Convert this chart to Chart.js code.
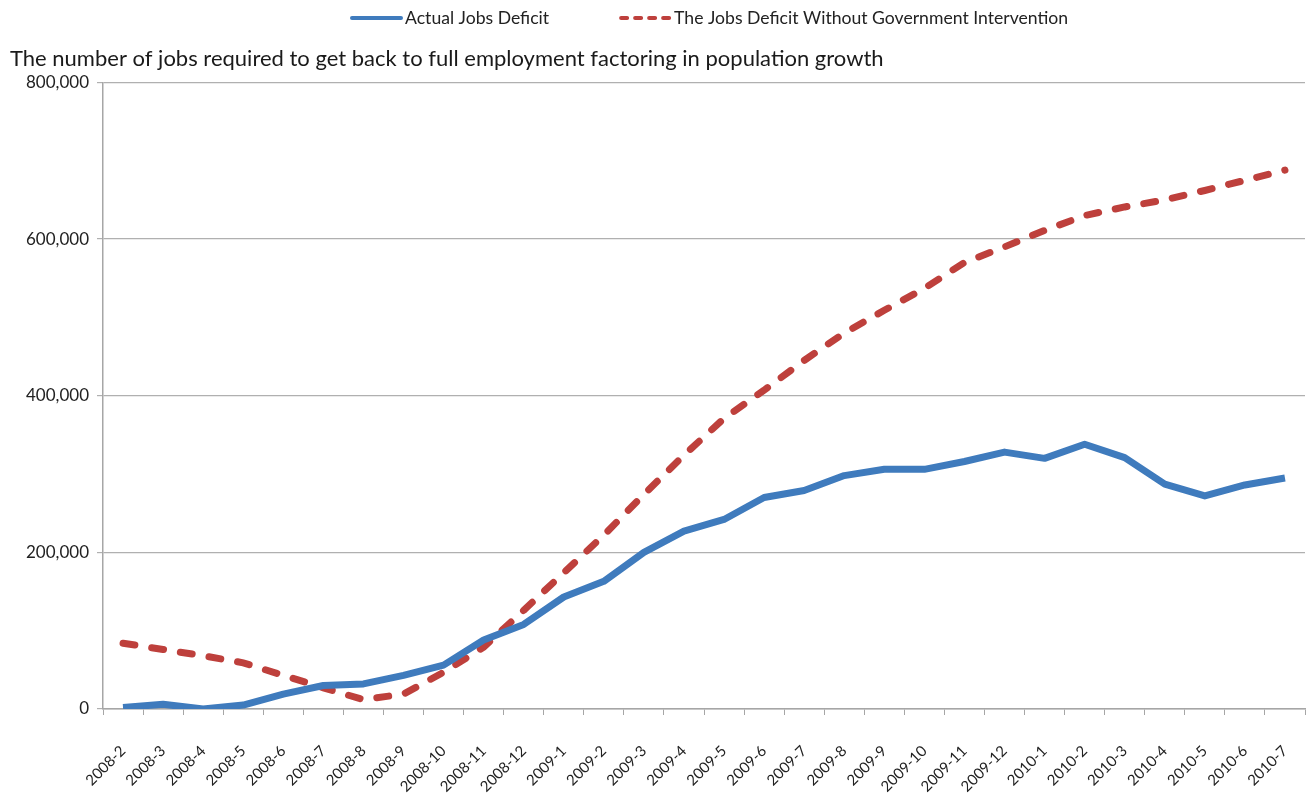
<!DOCTYPE html>
<html>
<head>
<meta charset="utf-8">
<script src="https://cdn.jsdelivr.net/npm/chart.js@4/dist/chart.umd.min.js"></script>
<style>
  body { margin: 0; background: #fff; }
  #wrap { width: 1309px; height: 794px; }
</style>
</head>
<body>
<div id="wrap"><canvas id="line-chart"></canvas></div>
<script>
const months = [
  "2008-2", "2008-3", "2008-4", "2008-5", "2008-6", "2008-7", "2008-8", "2008-9", "2008-10", "2008-11", "2008-12",
  "2009-1", "2009-2", "2009-3", "2009-4", "2009-5", "2009-6", "2009-7", "2009-8", "2009-9", "2009-10", "2009-11", "2009-12",
  "2010-1", "2010-2", "2010-3", "2010-4", "2010-5", "2010-6", "2010-7"
];
const actualDeficit = [
  2000, 6000, 0, 5000, 19000, 30000, 32000, 43000, 56000, 88000, 108000,
  143000, 163000, 200000, 227000, 242000, 270000, 279000, 298000, 306000, 306000, 316000, 328000,
  320000, 338000, 321000, 287000, 272000, 286000, 295000
];
const noInterventionDeficit = [
  84000, 76000, 68000, 59000, 43000, 27000, 12000, 19000, 47000, 79000, 126000,
  174000, 222000, 274000, 324000, 371000, 407000, 445000, 480000, 509000, 537000, 570000, 590000,
  611000, 630000, 641000, 650000, 662000, 675000, 688000
];
const yTicks = [0, 200000, 400000, 600000, 800000];

const font = "Lato, 'Open Sans', sans-serif";

// legend drawn by hand so the dashed sample shows up like the original
const lineLegend = {
  id: "lineLegend",
  afterDraw(chart) {
    const c = chart.ctx;
    const y = 18;
    let x = 350;
    c.save();
    c.font = "17.6px " + font;
    c.textBaseline = "middle";
    chart.data.datasets.forEach(ds => {
      c.beginPath();
      c.strokeStyle = ds.borderColor;
      c.lineWidth = 4;
      c.lineCap = "round";
      c.setLineDash(ds.borderDash ? [6, 8] : []);
      c.moveTo(x + 2, y);
      c.lineTo(x + 51, y);
      c.stroke();
      c.setLineDash([]);
      c.fillStyle = "#222";
      c.fillText(ds.label, x + 55, y);
      x += 55 + c.measureText(ds.label).width + 70;
    });
    c.restore();
  }
};

const ctx = document.getElementById("line-chart");
const myChart = new Chart(ctx, {
  type: "line",
  data: {
    labels: months,
    datasets: [{
      label: "Actual Jobs Deficit",
      data: actualDeficit,
      borderColor: "#3f7bbd",
      backgroundColor: "#3f7bbd",
      borderWidth: 7,
      pointRadius: 0,
      borderJoinStyle: "round",
      tension: 0
    }, {
      label: "The Jobs Deficit Without Government Intervention",
      data: noInterventionDeficit,
      borderColor: "#be403c",
      backgroundColor: "#be403c",
      borderWidth: 7,
      borderDash: [12, 17],
      borderCapStyle: "round",
      pointRadius: 0,
      tension: 0
    }]
  },
  options: {
    responsive: true,
    maintainAspectRatio: false,
    animation: false,
    layout: { padding: { left: 10, right: 4, top: 0, bottom: 0 } },
    plugins: {
      legend: { display: false },
      title: {
        display: true,
        text: "The number of jobs required to get back to full employment factoring in population growth",
        align: "start",
        color: "#1a1a1a",
        font: { family: font, size: 22, weight: "normal" },
        padding: { top: 46, bottom: 10 }
      },
      tooltip: { enabled: false }
    },
    scales: {
      x: {
        offset: true,
        grid: {
          offset: true,
          drawOnChartArea: false,
          drawTicks: true,
          tickLength: 6,
          color: "#a6a6a6"
        },
        border: { color: "#a6a6a6", width: 1.5 },
        ticks: {
          autoSkip: false,
          minRotation: 45,
          maxRotation: 45,
          padding: 27,
          color: "#222",
          font: { family: font, size: 15 }
        },
        afterFit: s => {
          s.height = 85;
          s.paddingLeft = 0;
          s.paddingRight = 0;
        }
      },
      y: {
        min: 0,
        max: 800000,
        afterBuildTicks: s => { s.ticks = yTicks.map(v => ({ value: v })); },
        grid: {
          color: "#b0b0b0",
          lineWidth: 1.2,
          tickLength: 6
        },
        border: { color: "#a6a6a6", width: 1.5 },
        ticks: {
          color: "#222",
          padding: 8,
          font: { family: font, size: 17 },
          callback: v => v.toLocaleString("en-US")
        },
        afterFit: s => { s.width = 93; }
      }
    }
  },
  plugins: [lineLegend]
});
</script>
</body>
</html>
